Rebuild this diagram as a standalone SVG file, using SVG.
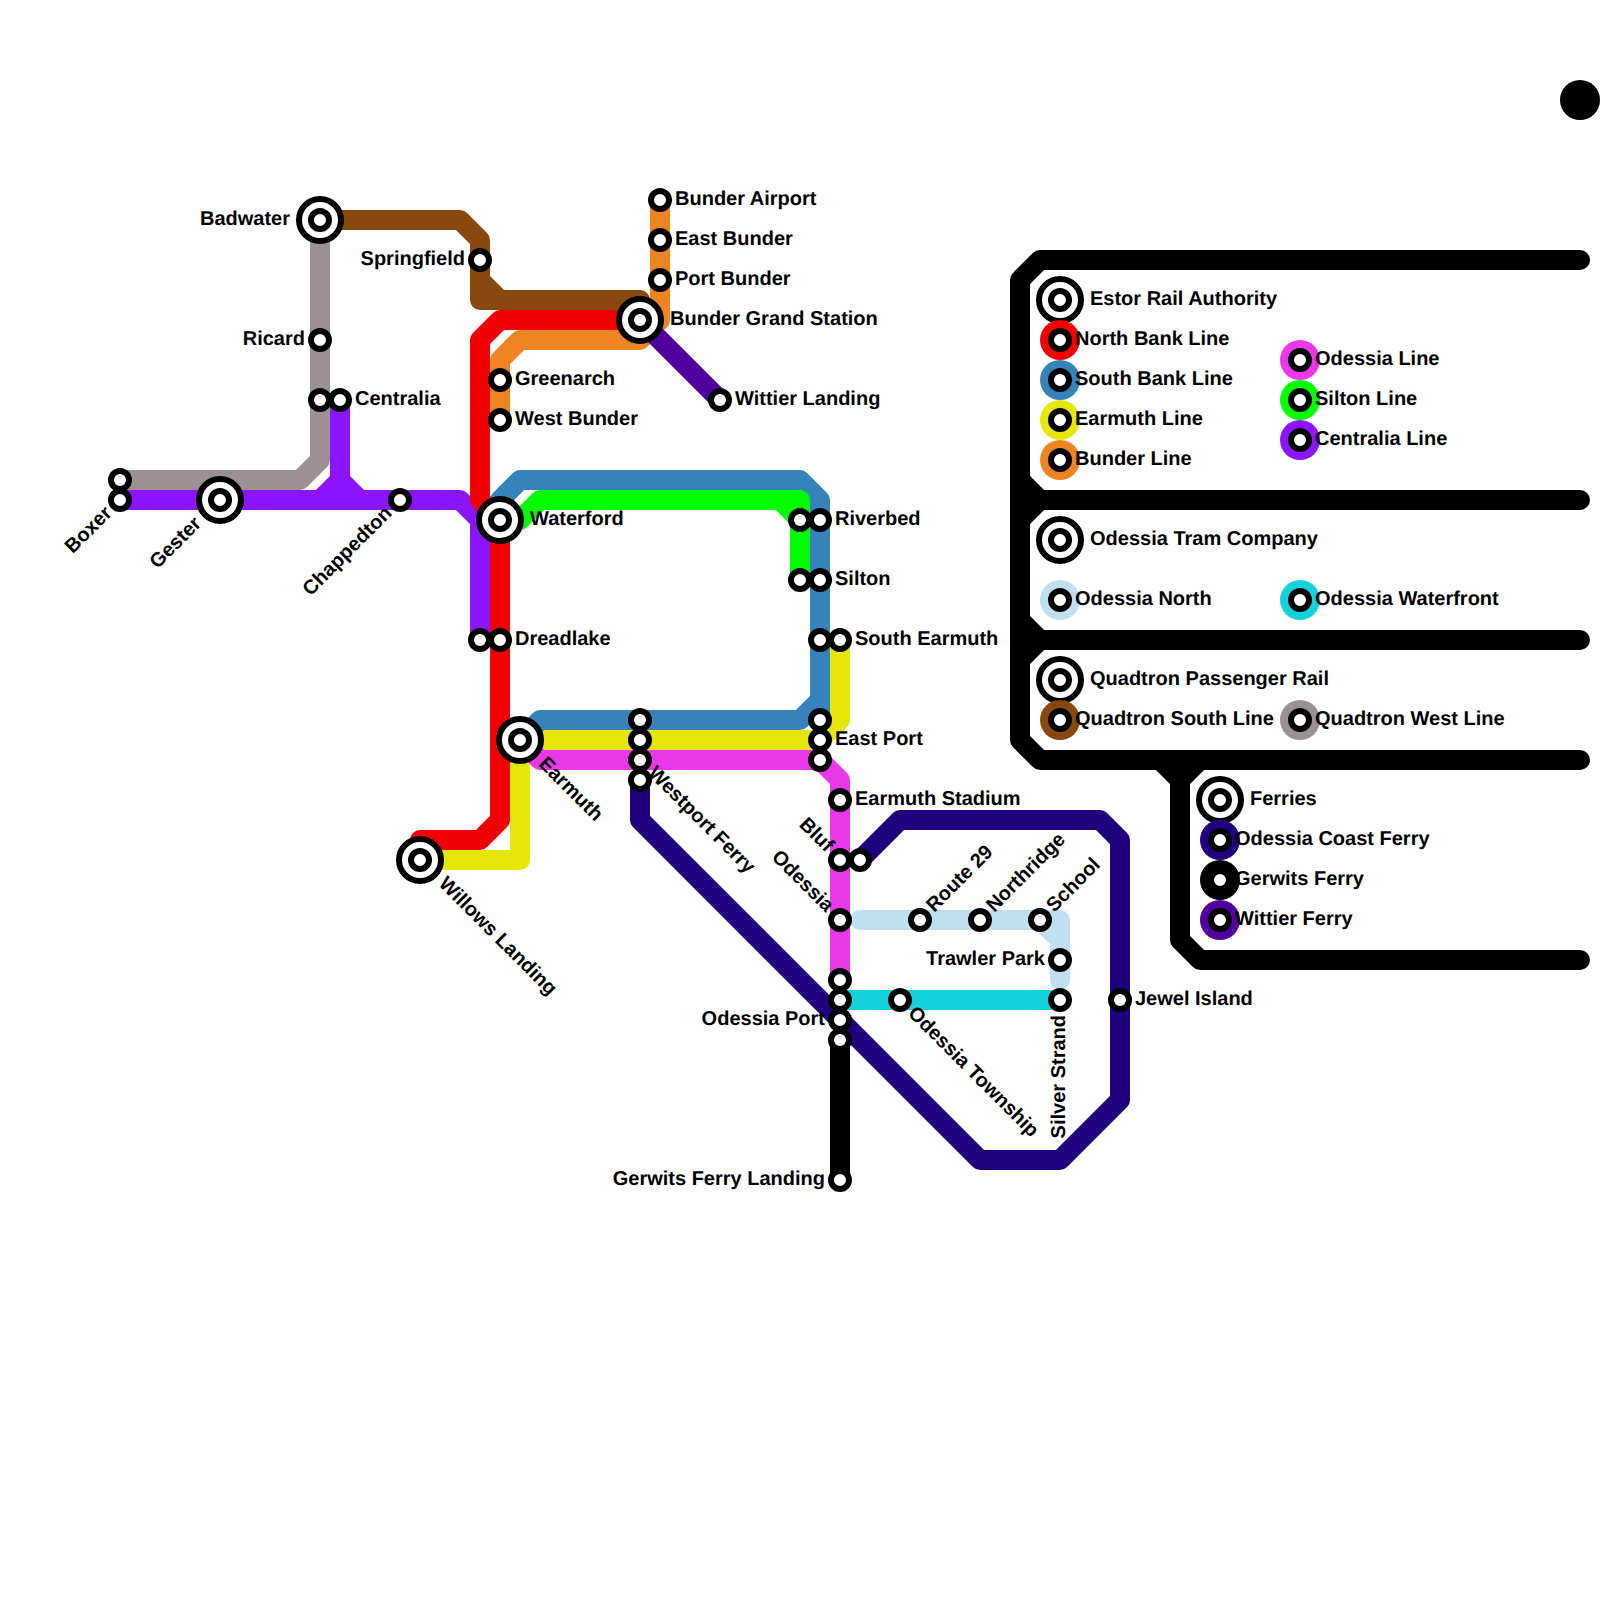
<svg xmlns="http://www.w3.org/2000/svg" width="1600" height="1600" viewBox="0 0 1600 1600">
<style>
.l{fill:none;stroke-width:20;stroke-linecap:round;stroke-linejoin:round}
.s{fill:#fff;stroke:#000;stroke-width:6}
.i{fill:#fff;stroke:#000;stroke-width:6}
text{font-family:"Liberation Sans",Arial,sans-serif;font-weight:bold;font-size:20px;fill:#000;text-rendering:geometricPrecision}
.e{text-anchor:end}
.north{stroke:#f00000}.south{stroke:#3682ba}.earmuth{stroke:#e6e60a}.bunder{stroke:#ee8422}.odessia{stroke:#ea37ea}.silton{stroke:#00ff00}.centralia{stroke:#8c14ff}.qs{stroke:#88480e}.qw{stroke:#9b9195}.coast{stroke:#210080}.gerwits{stroke:#000}.wittier{stroke:#50009c}.water{stroke:#15d1dc}.onorth{stroke:#c0dff0}.frame{stroke:#000}
</style>
<defs>
<g id="st"><circle class="s" r="9"/></g>
<g id="ic"><circle class="i" r="21"/><circle class="s" r="9"/></g>
</defs>
<circle id="dot" cx="1580" cy="100" r="20" fill="#000"/>
<g id="connectors">
<path class="l frame" d="M1580 260H1040L1020 280V740L1040 760H1580M1020 480L1040 500H1580M1020 520L1040 500M1020 620L1040 640H1580M1020 660L1040 640M1160 760L1180 780V940L1200 960H1580M1200 760L1180 780"/>
<path class="l qw" d="M320 220V460L300 480H120"/>
<path class="l centralia" d="M120 500H460L480 520V640M340 400V480L320 500M340 480L360 500"/>
<path class="l qs" d="M320 220H460L480 240V280L500 300H640V320M480 280V300H500"/>
<path class="l bunder" d="M660 200V320L640 340H520L500 360V420"/>
<path class="l earmuth" d="M420 860H520V740H820L840 720V640"/>
<path class="l north" d="M420 860V840H480L500 820V520L480 500V340L500 320H640"/>
<path class="l south" d="M500 520V500L520 480H800L820 500V720M820 700L800 720H540L520 740"/>
<path class="l silton" d="M500 520H520L540 500H780L800 520V580M780 500H800V520"/>
<path class="l odessia" d="M520 740L540 760H820L840 780V980"/>
<path class="l onorth" d="M860 920H1040L1060 940V980M1040 920H1060V940"/>
<path class="l water" d="M840 1000H1060"/>
<path class="l wittier" d="M640 320L720 400"/>
<path class="l coast" d="M640 780V820L980 1160H1060L1120 1100V840L1100 820H900L860 860"/>
<path class="l gerwits" d="M840 1040V1180"/>
</g>
<g id="stations">
<g id="badwater" transform="translate(320 220)"><use href="#ic"/><text class="e" x="-30" y="5">Badwater</text></g>
<g id="ricard" transform="translate(320 340)"><use href="#st"/><text class="e" x="-15" y="5">Ricard</text></g>
<g id="ricard2" transform="translate(320 400)"><use href="#st"/></g>
<g id="centralia" transform="translate(340 400)"><use href="#st"/><text x="15" y="5">Centralia</text></g>
<g id="boxer2" transform="translate(120 480)"><use href="#st"/></g>
<g id="boxer" transform="translate(120 500)"><use href="#st"/><text class="e" transform="rotate(-45)" x="-15" y="5">Boxer</text></g>
<g id="gester" transform="translate(220 500)"><use href="#ic"/><text class="e" transform="rotate(-45)" x="-30" y="5">Gester</text></g>
<g id="chappedton" transform="translate(400 500)"><use href="#st"/><text class="e" transform="rotate(-45)" x="-15" y="5">Chappedton</text></g>
<g id="springfield" transform="translate(480 260)"><use href="#st"/><text class="e" x="-15" y="5">Springfield</text></g>
<g id="bunder-airport" transform="translate(660 200)"><use href="#st"/><text x="15" y="5">Bunder Airport</text></g>
<g id="east-bunder" transform="translate(660 240)"><use href="#st"/><text x="15" y="5">East Bunder</text></g>
<g id="port-bunder" transform="translate(660 280)"><use href="#st"/><text x="15" y="5">Port Bunder</text></g>
<g id="bunder-grand" transform="translate(640 320)"><use href="#ic"/><text x="30" y="5">Bunder Grand Station</text></g>
<g id="wittier-landing" transform="translate(720 400)"><use href="#st"/><text x="15" y="5">Wittier Landing</text></g>
<g id="greenarch" transform="translate(500 380)"><use href="#st"/><text x="15" y="5">Greenarch</text></g>
<g id="west-bunder" transform="translate(500 420)"><use href="#st"/><text x="15" y="5">West Bunder</text></g>
<g id="waterford" transform="translate(500 520)"><use href="#ic"/><text x="30" y="5">Waterford</text></g>
<g id="riverbed2" transform="translate(800 520)"><use href="#st"/></g>
<g id="riverbed" transform="translate(820 520)"><use href="#st"/><text x="15" y="5">Riverbed</text></g>
<g id="silton2" transform="translate(800 580)"><use href="#st"/></g>
<g id="silton" transform="translate(820 580)"><use href="#st"/><text x="15" y="5">Silton</text></g>
<g id="dreadlake2" transform="translate(480 640)"><use href="#st"/></g>
<g id="dreadlake" transform="translate(500 640)"><use href="#st"/><text x="15" y="5">Dreadlake</text></g>
<g id="south-earmuth2" transform="translate(820 640)"><use href="#st"/></g>
<g id="south-earmuth" transform="translate(840 640)"><use href="#st"/><text x="15" y="5">South Earmuth</text></g>
<g id="east-port2" transform="translate(820 720)"><use href="#st"/></g>
<g id="east-port" transform="translate(820 740)"><use href="#st"/><text x="15" y="5">East Port</text></g>
<g id="east-port3" transform="translate(820 760)"><use href="#st"/></g>
<g id="westport1" transform="translate(640 720)"><use href="#st"/></g>
<g id="westport2" transform="translate(640 740)"><use href="#st"/></g>
<g id="westport3" transform="translate(640 780)"><use href="#st"/></g>
<g id="westport" transform="translate(640 760)"><use href="#st"/><text transform="rotate(45)" x="15" y="5">Westport Ferry</text></g>
<g id="earmuth" transform="translate(520 740)"><use href="#ic"/><text transform="rotate(45)" x="30" y="5">Earmuth</text></g>
<g id="willows" transform="translate(420 860)"><use href="#ic"/><text transform="rotate(45)" x="30" y="5">Willows Landing</text></g>
<g id="earmuth-stadium" transform="translate(840 800)"><use href="#st"/><text x="15" y="5">Earmuth Stadium</text></g>
<g id="bluf" transform="translate(840 860)"><use href="#st"/><text class="e" transform="rotate(45)" x="-15" y="5">Bluf</text></g>
<g id="bluf2" transform="translate(860 860)"><use href="#st"/></g>
<g id="odessia" transform="translate(840 920)"><use href="#st"/><text class="e" transform="rotate(45)" x="-15" y="5">Odessia</text></g>
<g id="route29" transform="translate(920 920)"><use href="#st"/><text transform="rotate(-45)" x="15" y="5">Route 29</text></g>
<g id="northridge" transform="translate(980 920)"><use href="#st"/><text transform="rotate(-45)" x="15" y="5">Northridge</text></g>
<g id="school" transform="translate(1040 920)"><use href="#st"/><text transform="rotate(-45)" x="15" y="5">School</text></g>
<g id="trawler" transform="translate(1060 960)"><use href="#st"/><text class="e" x="-15" y="5">Trawler Park</text></g>
<g id="silver" transform="translate(1060 1000)"><use href="#st"/><text class="e" transform="rotate(-90)" x="-15" y="5">Silver Strand</text></g>
<g id="township" transform="translate(900 1000)"><use href="#st"/><text transform="rotate(45)" x="15" y="5">Odessia Township</text></g>
<g id="jewel" transform="translate(1120 1000)"><use href="#st"/><text x="15" y="5">Jewel Island</text></g>
<g id="op1" transform="translate(840 980)"><use href="#st"/></g>
<g id="op2" transform="translate(840 1000)"><use href="#st"/></g>
<g id="odessia-port" transform="translate(840 1020)"><use href="#st"/><text class="e" x="-15" y="5">Odessia Port</text></g>
<g id="op4" transform="translate(840 1040)"><use href="#st"/></g>
<g id="gerwits-landing" transform="translate(840 1180)"><use href="#st"/><text class="e" x="-15" y="5">Gerwits Ferry Landing</text></g>
</g>
<g id="legend">
<g id="lg-era" transform="translate(1060 300)"><use href="#ic"/><text x="30" y="5">Estor Rail Authority</text></g>
<g id="lg-north" transform="translate(1060 340)"><circle r="20" fill="#f00000"/><use href="#st"/><text x="15" y="5">North Bank Line</text></g>
<g id="lg-south" transform="translate(1060 380)"><circle r="20" fill="#3682ba"/><use href="#st"/><text x="15" y="5">South Bank Line</text></g>
<g id="lg-earmuth" transform="translate(1060 420)"><circle r="20" fill="#e6e60a"/><use href="#st"/><text x="15" y="5">Earmuth Line</text></g>
<g id="lg-bunder" transform="translate(1060 460)"><circle r="20" fill="#ee8422"/><use href="#st"/><text x="15" y="5">Bunder Line</text></g>
<g id="lg-odessia" transform="translate(1300 360)"><circle r="20" fill="#ea37ea"/><use href="#st"/><text x="15" y="5">Odessia Line</text></g>
<g id="lg-silton" transform="translate(1300 400)"><circle r="20" fill="#00ff00"/><use href="#st"/><text x="15" y="5">Silton Line</text></g>
<g id="lg-centralia" transform="translate(1300 440)"><circle r="20" fill="#8c14ff"/><use href="#st"/><text x="15" y="5">Centralia Line</text></g>
<g id="lg-otc" transform="translate(1060 540)"><use href="#ic"/><text x="30" y="5">Odessia Tram Company</text></g>
<g id="lg-onorth" transform="translate(1060 600)"><circle r="20" fill="#c0dff0"/><use href="#st"/><text x="15" y="5">Odessia North</text></g>
<g id="lg-water" transform="translate(1300 600)"><circle r="20" fill="#15d1dc"/><use href="#st"/><text x="15" y="5">Odessia Waterfront</text></g>
<g id="lg-qpr" transform="translate(1060 680)"><use href="#ic"/><text x="30" y="5">Quadtron Passenger Rail</text></g>
<g id="lg-qs" transform="translate(1060 720)"><circle r="20" fill="#88480e"/><use href="#st"/><text x="15" y="5">Quadtron South Line</text></g>
<g id="lg-qw" transform="translate(1300 720)"><circle r="20" fill="#9b9195"/><use href="#st"/><text x="15" y="5">Quadtron West Line</text></g>
<g id="lg-ferries" transform="translate(1220 800)"><use href="#ic"/><text x="30" y="5">Ferries</text></g>
<g id="lg-coast" transform="translate(1220 840)"><circle r="20" fill="#210080"/><use href="#st"/><text x="15" y="5">Odessia Coast Ferry</text></g>
<g id="lg-gerwits" transform="translate(1220 880)"><circle r="20" fill="#000"/><use href="#st"/><text x="15" y="5">Gerwits Ferry</text></g>
<g id="lg-wittier" transform="translate(1220 920)"><circle r="20" fill="#50009c"/><use href="#st"/><text x="15" y="5">Wittier Ferry</text></g>
</g>
</svg>
